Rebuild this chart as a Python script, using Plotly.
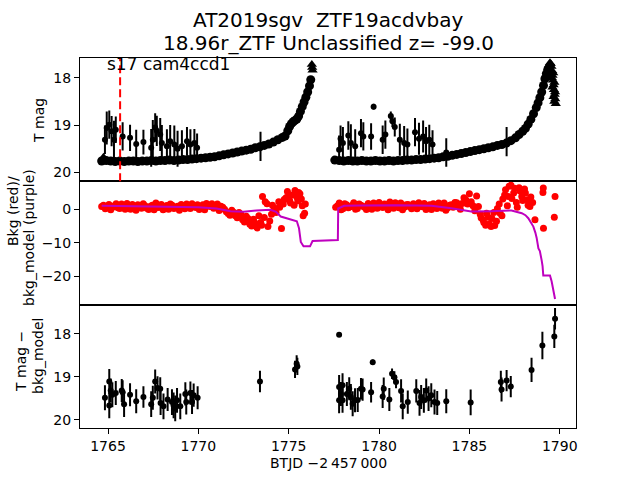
import plotly.graph_objects as go

# ---------------- data ----------------
# Panel 1: dense T-mag light curve (band), segment 1 and 2
band1_t = [1764.65, 1764.9, 1765.15, 1765.4, 1765.65, 1765.9, 1766.15, 1766.4, 1766.65, 1766.9,
           1767.15, 1767.4, 1767.65, 1767.9, 1768.15, 1768.4, 1768.65, 1768.9, 1769.15, 1769.4,
           1769.65, 1769.9, 1770.15, 1770.4, 1770.65, 1770.9, 1771.15, 1771.4, 1771.65, 1771.9,
           1772.15, 1772.4, 1772.65, 1772.9, 1773.15, 1773.4, 1773.65, 1773.9, 1774.15, 1774.4,
           1774.65, 1774.8, 1774.95, 1775.05, 1775.15, 1775.25, 1775.35, 1775.45, 1775.55, 1775.65,
           1775.75, 1775.85, 1775.95, 1776.05, 1776.15, 1776.22]
band1_m = [19.76, 19.75, 19.76, 19.77, 19.76, 19.77, 19.76, 19.76, 19.77, 19.76,
           19.76, 19.75, 19.76, 19.75, 19.75, 19.74, 19.75, 19.74, 19.73, 19.73,
           19.72, 19.71, 19.70, 19.69, 19.68, 19.67, 19.65, 19.63, 19.61, 19.59,
           19.57, 19.55, 19.53, 19.51, 19.48, 19.46, 19.43, 19.40, 19.36, 19.31,
           19.26, 19.23, 19.12, 19.03, 18.97, 18.93, 18.90, 18.87, 18.81, 18.71,
           18.61, 18.51, 18.41, 18.30, 18.17, 18.04]
band2_t = [1777.55, 1777.8, 1778.05, 1778.3, 1778.55, 1778.8, 1779.05, 1779.3, 1779.55, 1779.8,
           1780.05, 1780.3, 1780.55, 1780.8, 1781.05, 1781.3, 1781.55, 1781.8, 1782.05, 1782.3,
           1782.55, 1782.8, 1783.05, 1783.3, 1783.55, 1783.8, 1784.05, 1784.3, 1784.55, 1784.8,
           1785.05, 1785.3, 1785.55, 1785.8, 1786.05, 1786.3, 1786.55, 1786.8, 1787.05, 1787.3,
           1787.55, 1787.75, 1787.95, 1788.1, 1788.25, 1788.4, 1788.55, 1788.7, 1788.8, 1788.9,
           1789.0, 1789.1, 1789.18, 1789.26, 1789.34]
band2_m = [19.74, 19.75, 19.76, 19.75, 19.76, 19.76, 19.75, 19.76, 19.76, 19.75,
           19.76, 19.76, 19.75, 19.76, 19.75, 19.75, 19.74, 19.74, 19.73, 19.73,
           19.72, 19.71, 19.70, 19.69, 19.67, 19.66, 19.64, 19.62, 19.60, 19.58,
           19.56, 19.54, 19.52, 19.50, 19.48, 19.46, 19.43, 19.41, 19.38, 19.33,
           19.27, 19.20, 19.13, 19.07, 18.98, 18.88, 18.76, 18.63, 18.53, 18.42,
           18.30, 18.16, 18.02, 17.91, 17.82]

# Panel 1: upper-limit style triangles
tri_t = [1764.7, 1764.75, 1776.28, 1776.30, 1776.32,
         1789.38, 1789.42, 1789.46, 1789.50, 1789.54, 1789.58, 1789.60, 1789.62, 1789.66,
         1789.68, 1789.72, 1789.75, 1789.78, 1789.64, 1789.70, 1789.74, 1789.56, 1789.60,
         1789.66, 1789.70]
tri_m = [19.72, 19.68, 17.72, 17.78, 17.84,
         17.78, 17.72, 17.68, 17.70, 17.76, 17.85, 17.95, 18.05, 18.15,
         18.25, 18.35, 18.45, 18.55, 17.90, 18.10, 18.30, 18.00, 18.20,
         18.40, 18.50]

# Panel 1: scattered points with large error bars
sc_t = [1764.83, 1764.93, 1765.07, 1765.20, 1765.33, 1765.43, 1765.81, 1766.22, 1766.56, 1766.96,
        1767.39, 1767.48, 1767.61, 1767.70, 1767.89, 1767.98, 1768.26, 1768.44, 1768.67, 1768.85,
        1769.09, 1769.37, 1769.56, 1769.78, 1769.93, 1773.44,
        1777.79, 1777.87, 1778.00, 1778.30, 1778.44, 1778.68, 1779.00, 1779.13, 1779.56, 1779.70,
        1780.20, 1780.35, 1780.65, 1780.74, 1780.87, 1781.15, 1781.39, 1781.57, 1781.99, 1782.21,
        1782.44, 1782.60, 1782.78, 1782.96, 1783.72, 1787.06]
sc_m = [19.31, 19.06, 18.99, 19.13, 19.31, 19.10, 19.24, 19.27, 19.40, 19.36,
        19.48, 19.31, 19.05, 19.12, 19.20, 19.38, 19.45, 19.34, 19.41, 19.50,
        19.45, 19.34, 19.41, 19.38, 19.48, 19.45,
        19.52, 19.29, 19.38, 19.22, 19.38, 19.45, 19.17, 19.24, 19.24, 18.61,
        19.31, 19.20, 18.81, 18.92, 19.04, 19.31, 19.38, 19.41, 19.15, 19.29,
        19.24, 19.34, 19.31, 19.41, 19.58, 19.35]
sc_e = [0.30, 0.35, 0.30, 0.32, 0.40, 0.28, 0.30, 0.28, 0.30, 0.26,
        0.40, 0.42, 0.30, 0.32, 0.35, 0.38, 0.36, 0.34, 0.40, 0.38,
        0.34, 0.30, 0.32, 0.30, 0.30, 0.31,
        0.30, 0.28, 0.34, 0.30, 0.40, 0.36, 0.30, 0.30, 0.28, 0.06,
        0.30, 0.30, 0.10, 0.12, 0.20, 0.34, 0.36, 0.34, 0.30, 0.34,
        0.34, 0.30, 0.32, 0.30, 0.30, 0.31]

# Panel 2: background flux (red)
bkg_t = [1764.65, 1764.85, 1765.05, 1765.25, 1765.45, 1765.65, 1765.85, 1766.05, 1766.25, 1766.45,
         1766.65, 1766.85, 1767.05, 1767.25, 1767.45, 1767.65, 1767.85, 1768.05, 1768.25, 1768.45,
         1768.65, 1768.85, 1769.05, 1769.25, 1769.45, 1769.65, 1769.85, 1770.05, 1770.25, 1770.45,
         1770.65, 1770.85, 1771.05, 1771.25, 1771.45, 1771.65, 1771.85, 1772.05, 1772.25, 1772.45,
         1772.65, 1772.85, 1773.05, 1773.25, 1773.45, 1773.55, 1773.65, 1773.80, 1773.85, 1774.05,
         1774.20, 1774.45, 1774.60, 1774.70, 1774.85, 1774.93, 1775.05, 1775.20, 1775.30, 1775.45,
         1775.55, 1775.62, 1775.70, 1775.80, 1775.92,
         1777.60, 1777.80, 1778.00, 1778.20, 1778.40, 1778.60, 1778.80, 1779.00, 1779.20, 1779.40,
         1779.60, 1779.80, 1780.00, 1780.20, 1780.40, 1780.60, 1780.80, 1781.00, 1781.20, 1781.40,
         1781.60, 1781.80, 1782.00, 1782.20, 1782.40, 1782.60, 1782.80, 1783.00, 1783.20, 1783.40,
         1783.60, 1783.80, 1784.00, 1784.20, 1784.40, 1784.60, 1784.80, 1785.00, 1785.20, 1785.40,
         1785.60, 1785.75, 1785.90, 1786.05, 1786.20, 1786.35, 1786.50, 1786.65, 1786.80, 1786.95,
         1787.10, 1787.20, 1787.35, 1787.50, 1787.65, 1787.80, 1787.95, 1788.10, 1788.25, 1788.40,
         1788.63, 1789.07, 1789.09, 1789.10, 1789.70, 1789.74]
bkg_v = [0.8, 0.1, 1.4, 0.6, 1.6, 0.2, 1.1, 1.7, 0.0, 0.9,
         1.3, 0.3, 1.0, -0.1, 1.2, 1.8, 0.6, -0.2, 1.1, 1.5,
         0.2, 0.9, 1.4, 0.1, 1.0, 1.6, 0.5, -0.1, 1.3, 1.7,
         0.8, 0.3, 1.5, 0.9, 0.0, -1.3, -0.3, -2.0, -1.0, -3.2,
         -2.1, -4.5, -3.0, -5.6, -4.0, 3.8, -2.5, 1.6, -5.2, -1.5,
         0.4, 2.2, -5.8, 1.5, 3.4, 5.3, 2.6, 4.2, 1.2, 3.6,
         5.0, 4.6, 3.0, -2.0, 1.5,
         0.6, 1.8, 0.1, 1.3, 0.7, 1.9, 0.2, 1.2, 0.6, 1.7,
         0.0, 1.1, 2.0, 0.5, 1.3, 2.1, 0.3, 1.0, 1.8, 0.6,
         1.4, 0.1, 1.2, 1.9, 0.7, -0.1, 1.3, 1.6, 0.2, 1.0,
         1.8, 0.4, 1.3, 2.0, 0.8, 1.7, 2.8, 4.6, 1.0, 3.9,
         -1.5, -3.2, -4.8, -2.4, -5.2, -1.0, -3.6, 1.5, -2.0, 4.2,
         1.0, 6.8, 3.2, 6.2, 0.6, 5.4, 2.6, 4.8, 1.2, 3.6,
         -3.2, 5.0, 6.3, -5.7, -2.4, 3.8]
# more background samples (in between the above)
bkg_more_t = [1764.75, 1764.95, 1765.15, 1765.35, 1765.55, 1765.75, 1765.95, 1766.15, 1766.35, 1766.55,
              1766.75, 1766.95, 1767.15, 1767.35, 1767.55, 1767.75, 1767.95, 1768.15, 1768.35, 1768.55,
              1768.75, 1768.95, 1769.15, 1769.35, 1769.55, 1769.75, 1769.95, 1770.15, 1770.35, 1770.55,
              1770.75, 1770.95, 1771.15, 1771.35, 1771.55, 1771.75, 1771.95, 1772.15, 1772.35, 1772.55,
              1772.75, 1772.95, 1773.15, 1773.35, 1773.50, 1773.70, 1773.95, 1774.10, 1774.30, 1774.50,
              1774.75, 1775.00, 1775.10, 1775.35, 1775.50, 1775.75, 1775.88,
              1777.70, 1777.90, 1778.10, 1778.30, 1778.50, 1778.70, 1778.90, 1779.10, 1779.30, 1779.50,
              1779.70, 1779.90, 1780.10, 1780.30, 1780.50, 1780.70, 1780.90, 1781.10, 1781.30, 1781.50,
              1781.70, 1781.90, 1782.10, 1782.30, 1782.50, 1782.70, 1782.90, 1783.10, 1783.30, 1783.50,
              1783.70, 1783.90, 1784.10, 1784.30, 1784.50, 1784.70, 1784.90, 1785.10, 1785.30, 1785.50,
              1785.65, 1785.80, 1785.95, 1786.10, 1786.25, 1786.40, 1786.55, 1786.70, 1786.85, 1787.00,
              1787.15, 1787.30, 1787.45, 1787.60, 1787.75, 1787.90, 1788.05, 1788.20, 1788.35, 1788.50]
bkg_more_v = [1.2, 0.5, -0.2, 1.0, 0.4, 1.5, 0.0, 0.7, 1.4, -0.3,
              0.6, 1.6, 0.3, 0.9, -0.2, 0.5, 1.4, 0.8, 0.0, 1.2,
              0.6, -0.3, 0.7, 1.5, 0.2, 0.8, 1.3, 0.4, -0.2, 1.0,
              1.6, 0.5, -0.4, 0.6, -0.8, -1.8, -0.9, -2.6, -1.5, -3.8,
              -2.8, -5.0, -4.2, -2.0, -4.8, 2.2, -3.5, 1.2, -1.0, 0.6,
              2.9, 4.0, 1.8, 5.6, 2.4, 1.0, -1.2,
              1.0, -0.2, 1.6, 0.4, 1.1, 0.0, 1.5, 0.9, -0.1, 1.2,
              1.8, 0.3, 0.9, 1.5, -0.2, 0.8, 1.9, 0.4, -0.2, 1.3,
              0.7, 1.6, 0.1, 0.9, 1.7, 0.5, -0.1, 1.0, 1.8, 0.3,
              -0.3, 1.2, 0.6, 1.9, 0.0, 3.4, 1.5, 2.2, -0.5, 0.8,
              -2.6, -4.0, -1.2, -4.4, -2.8, -4.9, 0.2, -1.2, 3.0, 5.8,
              3.8, 7.1, 4.8, 2.0, 6.4, 3.8, 6.0, 2.8, 0.8, 2.0]

# Panel 2: background model (purple)
model_t = [1764.65, 1766.0, 1768.0, 1770.0, 1771.0, 1771.78, 1772.5, 1773.2, 1774.0, 1774.3,
           1774.56, 1774.9, 1775.2, 1775.45, 1775.57, 1775.67, 1775.82, 1776.18, 1776.32, 1777.33,
           1777.72, 1777.74, 1778.07, 1779.0, 1780.0, 1781.0, 1782.0, 1782.9, 1784.0, 1785.1,
           1786.2, 1787.33, 1787.9, 1788.1, 1788.26, 1788.4, 1788.54, 1788.65, 1788.72, 1788.82,
           1788.9, 1789.0, 1789.05, 1789.09, 1789.46, 1789.55, 1789.65, 1789.74]
model_v = [1.0, 0.9, 0.8, 0.6, 0.2, -0.6, -0.8, -0.4, -0.2, -0.8,
           -2.2, -2.7, -3.0, -3.6, -5.7, -9.8, -11.1, -11.1, -9.5, -9.2,
           -9.2, 0.2, 1.0, 1.1, 1.2, 1.2, 1.1, 1.0, 0.3, -0.7,
           -0.6, -0.4, -1.2, -1.8, -2.7, -3.8, -5.2, -7.0, -8.5, -11.7,
           -12.5, -15.3, -17.0, -19.8, -19.8, -21.5, -24.5, -26.8]

# Panel 3: T mag - bkg_model
diff_t = [1764.83, 1765.07, 1765.07, 1765.15, 1765.24, 1765.43, 1765.76, 1765.81, 1765.89, 1766.22,
          1766.56, 1766.96, 1767.39, 1767.48, 1767.61, 1767.74, 1767.89, 1767.91, 1768.07, 1768.30,
          1768.54, 1768.63, 1768.72, 1768.82, 1769.00, 1769.28, 1769.33, 1769.56, 1769.65, 1769.74,
          1769.96, 1773.41, 1775.35, 1775.44, 1775.48,
          1777.79, 1777.79, 1777.79, 1777.89, 1777.98, 1777.98, 1778.22, 1778.35, 1778.44, 1778.54,
          1778.67, 1778.82, 1779.00, 1779.09, 1779.56, 1779.65, 1780.20, 1780.26, 1780.57, 1780.72,
          1780.85, 1780.94, 1781.22, 1781.31, 1781.59, 1782.06, 1782.24, 1782.33, 1782.48, 1782.61,
          1782.74, 1782.89, 1783.07, 1783.22, 1783.72, 1785.07, 1786.74, 1786.78, 1787.06, 1787.29,
          1788.44, 1789.04, 1789.70, 1789.74]
diff_m = [19.49, 19.11, 19.67, 19.32, 19.42, 19.38, 19.32, 19.36, 19.64, 19.42,
          19.57, 19.47, 19.64, 19.49, 19.11, 19.26, 19.28, 19.61, 19.69, 19.53,
          19.59, 19.67, 19.74, 19.55, 19.69, 19.40, 19.59, 19.38, 19.59, 19.43,
          19.49, 19.11, 18.83, 18.70, 18.76,
          18.02, 19.24, 19.55, 19.40, 19.20, 19.55, 19.40, 19.28, 19.47, 19.63,
          19.55, 19.54, 19.28, 19.30, 19.36, 18.66, 19.46, 19.28, 19.53, 18.93,
          19.01, 19.12, 19.33, 19.69, 19.59, 19.33, 19.61, 19.47, 19.55, 19.32,
          19.51, 19.43, 19.59, 19.61, 19.57, 19.60, 19.12, 19.30, 19.09, 19.23,
          18.84, 18.27, 18.06, 17.65]
diff_e = [0.29, 0.29, 0.30, 0.28, 0.29, 0.28, 0.27, 0.28, 0.30, 0.27,
          0.28, 0.25, 0.30, 0.28, 0.28, 0.27, 0.27, 0.28, 0.30, 0.27,
          0.30, 0.30, 0.30, 0.29, 0.30, 0.27, 0.29, 0.27, 0.28, 0.27,
          0.27, 0.25, 0.20, 0.20, 0.20,
          0.03, 0.28, 0.30, 0.28, 0.28, 0.29, 0.28, 0.27, 0.30, 0.29,
          0.28, 0.28, 0.25, 0.26, 0.24, 0.06, 0.27, 0.26, 0.27, 0.12,
          0.14, 0.15, 0.27, 0.30, 0.27, 0.27, 0.30, 0.28, 0.29, 0.28,
          0.29, 0.28, 0.29, 0.28, 0.28, 0.30, 0.26, 0.28, 0.25, 0.25,
          0.28, 0.32, 0.27, 0.25]

# annotations / ticks
title1 = "AT2019sgv\u00a0 ZTF19acdvbay"
title2 = "18.96r_ZTF Unclassified z= -99.0"
field_label = "s17 cam4ccd1"
disc_time = 1765.67
x_ticks = [1765, 1770, 1775, 1780, 1785, 1790]
y1_ticks = [18, 19, 20]
y2_ticks = [0, -10, -20]
y2_text = ["0", "\u221210", "\u221220"]
y3_ticks = [18, 19, 20]

FONT = "DejaVu Sans"
BLACK = "black"
RED = "#ff0000"
PURPLE = "#bf00bf"

fig = go.Figure()

# Panel 1
for bt, bm in ((band1_t, band1_m), (band2_t, band2_m)):
    fig.add_trace(go.Scatter(x=bt, y=bm, mode="markers", xaxis="x", yaxis="y",
                             marker=dict(color=BLACK, size=9),
                             error_y=dict(type="constant", value=0.05, color=BLACK,
                                          thickness=1.5, width=0),
                             showlegend=False))
fig.add_trace(go.Scatter(x=tri_t, y=tri_m, mode="markers", xaxis="x", yaxis="y",
                         marker=dict(color=BLACK, size=9, symbol="triangle-up"),
                         showlegend=False))
fig.add_trace(go.Scatter(x=sc_t, y=sc_m, mode="markers", xaxis="x", yaxis="y",
                         marker=dict(color=BLACK, size=6),
                         error_y=dict(type="data", array=sc_e, color=BLACK, thickness=2, width=0),
                         showlegend=False))

# Panel 2
fig.add_trace(go.Scatter(x=bkg_t + bkg_more_t, y=bkg_v + bkg_more_v, mode="markers",
                         xaxis="x2", yaxis="y2",
                         marker=dict(color=RED, size=7), showlegend=False))
fig.add_trace(go.Scatter(x=model_t, y=model_v, mode="lines", xaxis="x2", yaxis="y2",
                         line=dict(color=PURPLE, width=2), showlegend=False))

# Panel 3
fig.add_trace(go.Scatter(x=diff_t, y=diff_m, mode="markers", xaxis="x3", yaxis="y3",
                         marker=dict(color=BLACK, size=6),
                         error_y=dict(type="data", array=diff_e, color=BLACK, thickness=2, width=0),
                         showlegend=False))

xr = [1763.45, 1790.9]
common_x = dict(range=xr, showline=True, mirror=True, linecolor=BLACK, linewidth=1,
                showgrid=False, zeroline=False, domain=[0, 1])
common_y = dict(showline=True, mirror=True, linecolor=BLACK, linewidth=1, showgrid=False,
                zeroline=False, ticks="outside", ticklen=5, tickwidth=1, tickcolor=BLACK,
                tickfont=dict(family=FONT, size=14, color=BLACK))

fig.update_layout(
    width=640, height=480,
    margin=dict(l=80, r=64, t=58, b=52),
    paper_bgcolor="white", plot_bgcolor="white",
    font=dict(family=FONT, color=BLACK),
    hovermode=False,
    xaxis=dict(**common_x, anchor="y", showticklabels=False, ticks=""),
    xaxis2=dict(**common_x, anchor="y2", showticklabels=False, ticks="", matches="x"),
    xaxis3=dict(**common_x, anchor="y3", matches="x", ticks="outside", ticklen=5, tickwidth=1,
                tickcolor=BLACK, tickvals=x_ticks, ticktext=[str(v) for v in x_ticks],
                tickfont=dict(family=FONT, size=14, color=BLACK)),
    yaxis=dict(**common_y, domain=[2/3, 1], range=[20.19, 17.58], tickvals=y1_ticks,
               ticktext=[str(v) for v in y1_ticks], anchor="x"),
    yaxis2=dict(**common_y, domain=[1/3, 2/3], range=[-28.5, 8.3], tickvals=y2_ticks,
                ticktext=y2_text, anchor="x2"),
    yaxis3=dict(**common_y, domain=[0, 1/3], range=[20.195, 17.32], tickvals=y3_ticks,
                ticktext=[str(v) for v in y3_ticks], anchor="x3"),
)

# red dashed discovery line in top panel
fig.add_shape(type="line", xref="x", yref="paper", x0=disc_time, x1=disc_time, y0=2/3, y1=1,
              line=dict(color=RED, width=2, dash="8px,4px"))


def ann(text, x, y, size=14, angle=0, xref="paper", yref="paper", xanchor="center"):
    fig.add_annotation(text=text, x=x, y=y, xref=xref, yref=yref, showarrow=False,
                       textangle=angle, xanchor=xanchor, yanchor="middle",
                       font=dict(family=FONT, size=size, color=BLACK))


H = 370.0
def py(p):
    return (428.0 - p) / H

def px(p):
    return (p - 80.0) / 496.0

ann(title1, 0.5, py(20), size=20)
ann(title2, 0.5, py(43), size=20)
ann(field_label, 1764.83, py(64), size=17, xref="x", xanchor="left")
ann("T mag", px(39), py(121), angle=-90)
ann("Bkg (red)/", px(13), py(211), angle=-90)
ann("bkg_model (purple)", px(29), py(238), angle=-90)
ann("T mag \u2212", px(21), py(362), angle=-90)
ann("bkg_model", px(38), py(356), angle=-90)
ann("BTJD \u22122\u2009457\u2009000", 0.5, py(463))

fig.write_html("out.html",
               config={"displayModeBar": False, "staticPlot": True},
               post_script="document.body.style.margin='0';document.body.style.padding='0';")
